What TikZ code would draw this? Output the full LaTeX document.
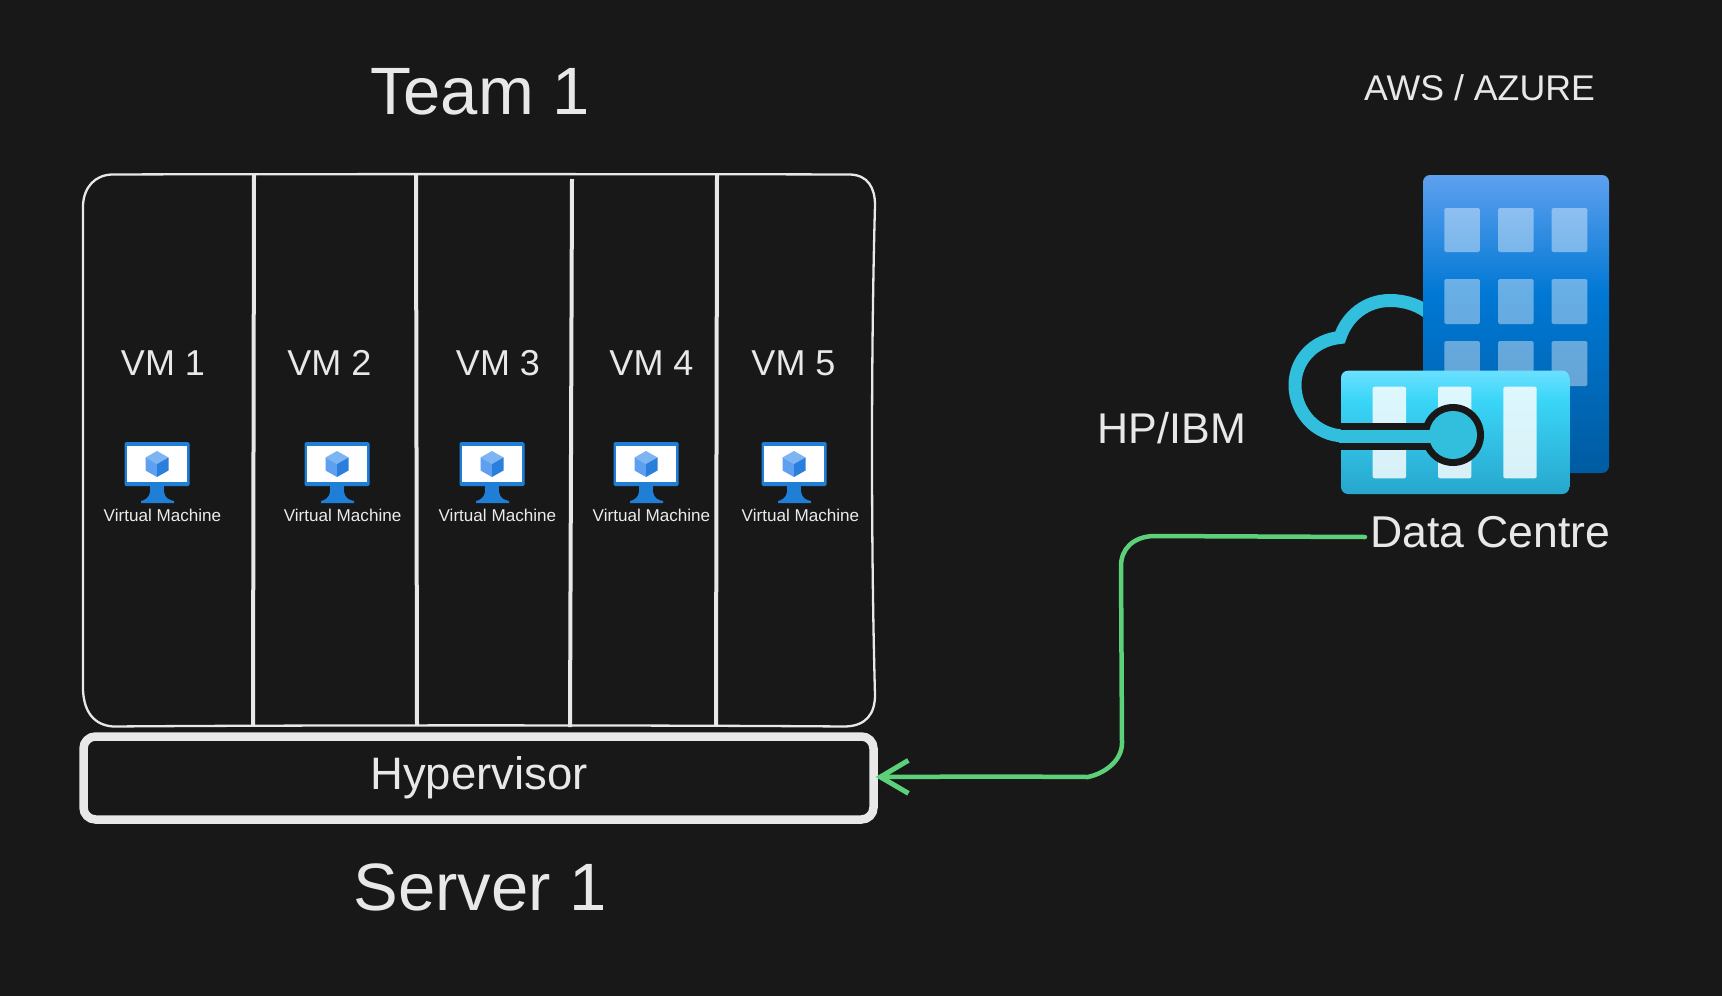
\documentclass[tikz,border=0pt]{standalone}
\usepackage{fontspec}
\setmainfont{Liberation Sans}
\usetikzlibrary{arrows.meta}
\definecolor{bg}{HTML}{181818}
\definecolor{ink}{HTML}{E8E8E8}
\definecolor{wire}{HTML}{5CD17A}
\definecolor{cloudc}{HTML}{32BEDD}
\definecolor{vmblue}{HTML}{1F7FD6}
\definecolor{cube1}{HTML}{7DB4F2}
\definecolor{cube2}{HTML}{5EA0EF}
\definecolor{cube3}{HTML}{2A7FDC}
\definecolor{bldt}{HTML}{5EA0EF}
\definecolor{bldm}{HTML}{0078D4}
\definecolor{bldb}{HTML}{005BA1}
\definecolor{boxt}{HTML}{6BE0FF}
\definecolor{boxm}{HTML}{3AD5F7}
\definecolor{boxb}{HTML}{27A6CD}
\pgfdeclareverticalshading{bldshade}{100bp}{color(0bp)=(bldb); color(25bp)=(bldb); color(55bp)=(bldm); color(75bp)=(bldt); color(100bp)=(bldt)}
\pgfdeclareverticalshading{boxshade}{100bp}{color(0bp)=(boxb); color(25bp)=(boxb); color(63bp)=(boxm); color(75bp)=(boxt); color(100bp)=(boxt)}
\newcommand{\fs}[1]{\fontsize{#1pt}{#1pt}\selectfont}
\tikzset{
  lbl/.style={text=ink,inner sep=0pt,outer sep=0pt,anchor=base},
  big/.style={lbl,font=\fs{67}},
  mid/.style={lbl,font=\fs{38}},
  vmt/.style={lbl,font=\fs{17.1},text=white!92!black},
  divider/.style={draw=ink,line width=4pt},
  win/.style={fill=white,fill opacity=.4,rounded corners=1.5pt},
  bar/.style={fill=white,fill opacity=.82,rounded corners=2pt},
  pics/vmicon/.style={code={
    \fill[vmblue] (-6.5,36) -- (6.5,36) -- (7,50) .. controls (8,56) and (12,58) .. (17,59) -- (17,61) -- (-16,61) -- (-16,59) .. controls (-12,58) and (-8,56) .. (-7,50) -- cycle;
    \fill[vmblue,rounded corners=1.5pt] (-32.5,0) rectangle (32.5,44);
    \fill[white] (-30,3.5) rectangle (30,39.5);
    \fill[cube1] (0,9) -- (11.5,15.5) -- (0,22) -- (-11.5,15.5) -- cycle;
    \fill[cube2] (-11.5,15.5) -- (0,22) -- (0,35) -- (-11.5,28.5) -- cycle;
    \fill[cube3] (11.5,15.5) -- (0,22) -- (0,35) -- (11.5,28.5) -- cycle;
  }}
}
\begin{document}
\begin{tikzpicture}[x=1pt,y=-1pt]
\useasboundingbox (0,0) rectangle (1722,996);
\fill[bg] (0,0) rectangle (1722,996);
% outer frame
\draw[ink,line width=2.3pt] (112,174.5) .. controls (220,174) and (700,174) .. (850,174.5)
  .. controls (868,175) and (875,188) .. (875,205)
  .. controls (871,350) and (871,550) .. (875,695)
  .. controls (875,714) and (866,726) .. (845,726.5)
  .. controls (650,725) and (300,725) .. (113,726.5)
  .. controls (94,725) and (84,712) .. (83,690)
  .. controls (83,550) and (83,350) .. (83,205)
  .. controls (84,187) and (95,175) .. (112,174.5) -- cycle;
\draw[divider] (254,175) -- (253,726);
\draw[divider] (416,175) -- (417,725);
\draw[divider] (572,179) -- (570,727);
\draw[divider] (717,175) -- (716,725);
% hypervisor
\node[draw=ink,line width=8.5pt,rounded corners=12pt,minimum width=790pt,minimum height=83pt,inner sep=0pt,outer sep=2pt,anchor=north west] (hyp) at (81.5,734.5) {};
% titles
\node[big] (team) at (480,114) {Team 1};
\node[big] (server) at (480,910) {Server 1};
\node[mid,font=\fs{35.7}] (aws) at (1479.5,100.5) {AWS / AZURE};
\node[mid,font=\fs{43}] (hpibm) at (1172,443) {HP/IBM};
\node[mid,font=\fs{45.5}] (hvtext) at (479,789) {Hypervisor};
\node[mid,font=\fs{44.6},anchor=base west] (dc) at (1370,547) {Data Centre};
\foreach \n/\x in {1/163,2/329.4,3/498,4/651.5,5/793.5}{
  \node[mid,font=\fs{36}] (vm\n) at (\x,375.5) {VM \n};
}
\foreach \n/\x/\lx in {1/157/162.5,2/337/342.6,3/492/497.4,4/646/651.5,5/794/800.5}{
  \pic at (\x,442) {vmicon};
  \node[vmt] (vl\n) at (\lx,521) {Virtual Machine};
}
% cloud arc (behind building)
\draw[cloudc,line width=13pt] (1432,316) .. controls (1420,305) and (1405,300.5) .. (1390,300.5)
  .. controls (1366,300.5) and (1347,316) .. (1340,337.5)
  .. controls (1314,340) and (1295,360) .. (1295,385)
  .. controls (1295,412) and (1316,436) .. (1345,436);
% building
\shade[shading=bldshade,rounded corners=7pt] (1423,175) rectangle (1609,473);
\foreach \x in {1444.3,1498,1551.7}{\foreach \y/\h in {208/44,279/45,341/45}{
  \fill[win] (\x,\y) rectangle ++(35.6,\h);
}}
% cluster box
\shade[shading=boxshade,rounded corners=7pt] (1341,370.7) rectangle (1569.3,494);
\foreach \x in {1372.7,1438,1503.3}{\fill[bar] (\x,386.7) rectangle ++(33.4,91.6);}
% connector of the icon
\draw[bg,line width=27pt] (1341,436) -- (1440,436);
\fill[bg] (1453,435) circle (31);
\draw[cloudc,line width=13pt] (1339,436) -- (1440,436);
\fill[cloudc] (1453,435) circle (24);
% link
\draw[wire,line width=4.5pt,line cap=round,line join=round,-{Straight Barb[length=28pt,width=33pt,line width=5pt]}]
  (dc.west |- 0,537) ++(-5,0) -- (1153,536) .. controls (1133,537) and (1121,549) .. (1121,566)
  -- (1122,743) .. controls (1122,760) and (1106,773) .. (1088,777) -- (1000,776.5) -- (hyp.east |- 0,777);
\end{tikzpicture}
\end{document}
